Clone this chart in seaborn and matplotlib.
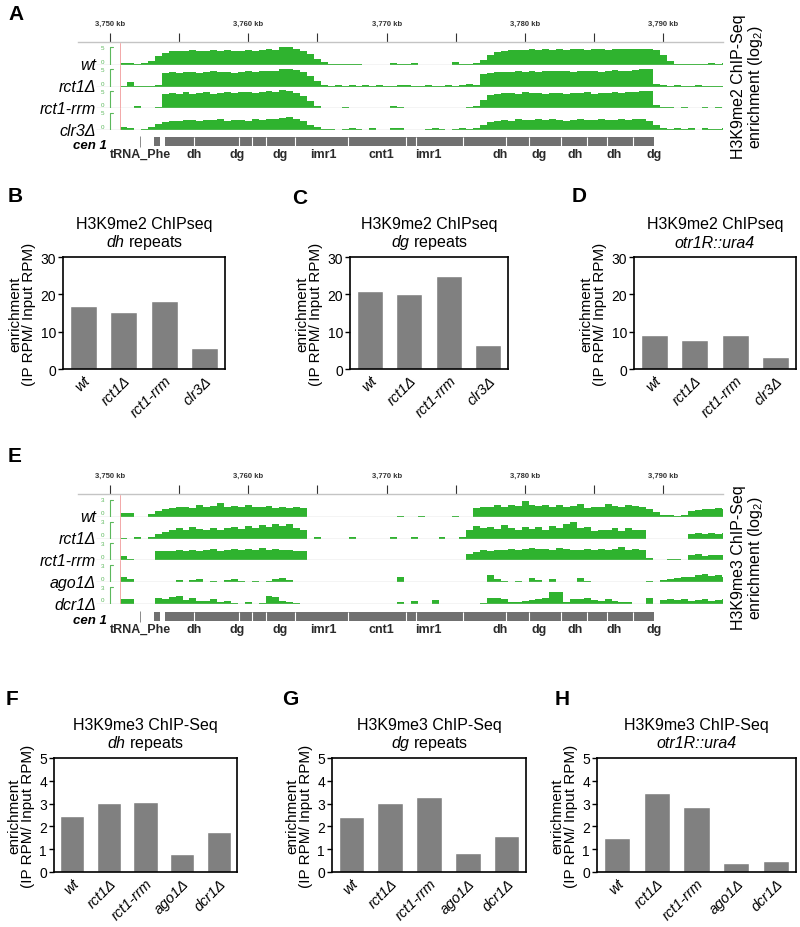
import numpy as np
import matplotlib
matplotlib.use("Agg")
import matplotlib.pyplot as plt
import seaborn as sns

# ---------------- bar chart data ----------------
strains_me2 = ["wt", "rct1Δ", "rct1-rrm", "clr3Δ"]
me2_dh = [17.0, 15.3, 18.2, 5.6]
me2_dg = [21.0, 20.0, 25.0, 6.5]
me2_ura4 = [9.0, 7.9, 9.0, 3.3]

strains_me3 = ["wt", "rct1Δ", "rct1-rrm", "ago1Δ", "dcr1Δ"]
me3_dh = [2.45, 3.02, 3.07, 0.80, 1.75]
me3_dg = [2.40, 3.03, 3.28, 0.82, 1.57]
me3_ura4 = [1.48, 3.46, 2.87, 0.40, 0.47]

# ---------------- genome browser data (0.5 kb bins) ----------------
bin_start_kb = 3750.75
bin_kb = 0.5
view_kb = (3747.7, 3794.3)
ruler_kb = [3750, 3760, 3770, 3780, 3790]
ruler_minor_kb = [3755, 3765, 3775, 3785]
cen_edge_kb = 3750.7
track_line_kb = 3749.0

me2_tracks = {
    "wt": [0.6, 0.4, 0.1, 0.4, 1.2, 2.6, 3.5, 3.9,
           4.1, 4.0, 4.2, 4.0, 4.1, 4.3, 4.0, 4.2,
           3.9, 4.1, 4.3, 4.1, 4.3, 4.5, 4.4, 5.0,
           5.1, 4.7, 4.0, 3.0, 1.8, 0.7, 0.2, 0.15,
           0.2, 0.1, 0.2, 0.0, 0.0, 0.0, 0.0, 0.4,
           0.3, 0.2, 0.6, 0.0, 0.0, 0.0, 0.0, 0.0,
           0.9, 0.2, 0.3, 0.6, 1.5, 2.8, 3.7, 4.1,
           4.3, 4.4, 4.2, 4.5, 4.4, 4.6, 4.4, 4.5,
           4.4, 4.6, 4.5, 4.4, 4.6, 4.5, 4.4, 4.6,
           4.5, 4.6, 4.7, 4.6, 4.7, 4.2, 2.8, 1.0,
           0.2, 0.3, 0.1, 0.3, 0.2, 0.4, 0.2, 0.5],
    "rct1Δ": [0.2, 1.4, 0.2, 0.1, 0.2, 0.6, 4.0, 4.2,
              4.0, 4.1, 4.3, 4.0, 4.2, 4.4, 4.1, 4.3,
              4.0, 4.2, 4.4, 4.2, 4.5, 4.6, 4.4, 5.0,
              5.2, 4.7, 4.2, 3.2, 1.5, 0.6, 0.3, 0.5,
              0.2, 0.4, 0.1, 0.5, 0.2, 0.4, 0.1, 0.3,
              0.6, 0.4, 0.3, 0.1, 0.5, 0.1, 0.2, 0.4,
              0.3, 0.6, 0.8, 0.5, 3.6, 4.0, 4.2, 4.1,
              4.3, 4.4, 4.2, 4.5, 4.3, 4.4, 4.6, 4.4,
              4.5, 4.3, 4.4, 4.6, 4.5, 4.3, 4.5, 4.7,
              4.5, 4.6, 4.8, 5.2, 5.2, 0.8, 0.6, 0.2,
              0.5, 0.1, 0.2, 0.4, 0.1, 0.3, 0.1, 0.2],
    "rct1-rrm": [0.1, 0.1, 0.6, 0.1, 0.0, 0.3, 4.3, 4.5,
                 4.3, 4.6, 4.2, 4.4, 4.6, 4.3, 4.5, 4.7,
                 4.4, 4.6, 4.8, 4.5, 4.8, 5.0, 4.8, 5.2,
                 5.1, 4.5, 3.5, 2.2, 0.8, 0.2, 0.0, 0.0,
                 0.5, 0.0, 0.0, 0.0, 0.0, 0.0, 0.0, 0.6,
                 0.3, 0.2, 0.2, 0.0, 0.2, 0.0, 0.2, 0.1,
                 0.2, 0.1, 0.3, 0.8, 2.5, 3.8, 4.2, 4.4,
                 4.5, 4.3, 4.6, 4.4, 4.5, 4.3, 4.5, 4.4,
                 4.3, 4.5, 4.4, 4.6, 4.3, 4.5, 4.4, 4.6,
                 4.5, 4.7, 4.6, 5.0, 4.9, 0.9, 0.5, 0.3,
                 0.2, 0.3, 0.1, 0.2, 0.3, 0.1, 0.3, 0.1],
    "clr3Δ": [0.8, 0.5, 0.2, 0.3, 1.0, 1.8, 2.4, 2.8,
              2.7, 2.9, 3.0, 2.8, 3.0, 2.9, 3.1, 2.8,
              2.9, 3.0, 2.8, 3.1, 3.0, 3.2, 3.1, 3.6,
              3.8, 3.3, 2.6, 1.6, 0.8, 0.4, 0.3, 0.2,
              0.4, 0.6, 0.3, 0.2, 0.5, 0.1, 0.1, 0.7,
              0.5, 0.2, 0.2, 0.1, 0.4, 0.6, 0.3, 0.2,
              0.4, 0.6, 0.3, 0.7, 1.4, 2.4, 2.8, 2.9,
              2.8, 3.1, 2.9, 3.0, 3.2, 2.9, 3.1, 3.0,
              2.8, 3.0, 3.1, 2.9, 3.0, 3.2, 3.0, 2.9,
              3.1, 3.0, 3.2, 3.3, 2.8, 1.5, 0.5, 0.3,
              0.6, 0.3, 0.5, 0.2, 0.6, 0.3, 0.4, 0.7],
}

me3_tracks = {
    "wt": [0.6, 0.6, 0.0, 0.0, 0.5, 1.0, 1.4, 1.5,
           1.7, 1.8, 1.6, 2.0, 1.7, 1.9, 2.4, 1.8,
           1.9, 1.7, 2.0, 1.8, 1.7, 1.9, 1.6, 1.8,
           1.5, 1.7, 1.6, 0.0, 0.0, 0.0, 0.0, 0.0,
           0.0, 0.0, 0.0, 0.0, 0.0, 0.0, 0.0, 0.0,
           0.15, 0.0, 0.0, 0.1, 0.0, 0.0, 0.0, 0.0,
           0.15, 0.0, 0.0, 1.6, 1.8, 1.7, 2.0, 1.8,
           2.1, 1.9, 2.8, 2.0, 1.9, 2.1, 1.8, 2.0,
           1.7, 1.9, 2.2, 1.6, 1.8, 1.7, 2.3, 1.9,
           1.8, 2.1, 1.9, 1.7, 1.4, 0.9, 0.3, 0.3,
           0.2, 0.4, 1.0, 1.2, 1.3, 1.4, 1.5, 1.4],
    "rct1Δ": [0.1, 0.0, 0.2, 0.0, 0.3, 0.9, 1.2, 1.5,
              1.8, 1.6, 2.1, 1.7, 1.5, 1.9, 1.6, 1.8,
              2.0, 1.7, 2.2, 1.9, 2.4, 2.0, 2.6, 2.2,
              2.5, 1.8, 1.6, 0.0, 0.2, 0.0, 0.0, 0.0,
              0.0, 0.2, 0.0, 0.0, 0.0, 0.0, 0.0, 0.2,
              0.0, 0.0, 0.2, 0.0, 0.0, 0.0, 0.2, 0.0,
              0.0, 0.3, 1.5, 2.2, 1.8, 2.0, 1.7, 2.4,
              1.8, 1.6, 2.1, 1.7, 2.0, 1.6, 2.2, 1.8,
              2.6, 2.9, 1.8, 2.0, 1.3, 1.5, 1.6, 1.8,
              1.4, 1.9, 1.6, 1.5, 0.0, 0.0, 0.0, 0.0,
              0.0, 0.0, 0.9, 1.0, 0.8, 1.0, 0.9, 1.0],
    "rct1-rrm": [0.8, 0.3, 0.1, 0.1, 0.0, 1.6, 1.7, 1.6,
                 1.8, 1.7, 1.9, 1.6, 1.8, 2.0, 1.7, 1.9,
                 2.0, 1.8, 2.1, 1.9, 2.2, 1.9, 2.0, 1.8,
                 1.9, 1.7, 1.6, 0.0, 0.0, 0.0, 0.0, 0.0,
                 0.0, 0.0, 0.0, 0.0, 0.0, 0.0, 0.0, 0.0,
                 0.0, 0.0, 0.0, 0.0, 0.0, 0.0, 0.0, 0.0,
                 0.0, 0.0, 1.2, 1.5, 1.8, 1.7, 1.9, 1.8,
                 2.0, 1.9, 2.1, 2.2, 2.0, 2.1, 1.9, 2.2,
                 2.0, 1.8, 1.9, 2.0, 1.8, 2.1, 1.9, 2.0,
                 2.3, 1.9, 2.1, 1.8, 0.4, 0.1, 0.0, 0.3,
                 0.2, 0.0, 0.9, 1.1, 0.7, 1.0, 0.9, 1.0],
    "ago1Δ": [1.0, 0.5, 0.0, 0.0, 0.0, 0.0, 0.0, 0.0,
              0.4, 0.0, 0.4, 0.5, 0.0, 0.3, 0.0, 0.4,
              0.5, 0.3, 0.0, 0.3, 0.0, 0.3, 0.5, 0.7,
              0.4, 0.0, 0.0, 0.0, 0.0, 0.0, 0.0, 0.0,
              0.0, 0.0, 0.0, 0.0, 0.0, 0.0, 0.0, 0.0,
              1.0, 0.0, 0.0, 0.0, 0.0, 0.0, 0.0, 0.0,
              0.0, 0.0, 0.0, 0.0, 0.0, 1.2, 0.6, 0.3,
              0.0, 0.3, 0.0, 0.8, 0.4, 0.0, 0.6, 0.0,
              0.0, 0.0, 0.7, 0.3, 0.0, 0.0, 0.0, 0.0,
              0.0, 0.0, 0.0, 0.0, 0.3, 0.0, 0.4, 0.6,
              0.8, 1.0, 0.9, 1.2, 1.4, 1.1, 1.3, 1.0],
    "dcr1Δ": [0.8, 0.8, 0.0, 0.0, 0.0, 1.0, 0.9, 1.2,
              1.5, 0.7, 1.1, 0.5, 0.6, 0.9, 0.3, 0.5,
              0.2, 0.0, 0.3, 0.0, 0.2, 1.4, 1.2, 0.6,
              0.3, 0.1, 0.0, 0.0, 0.0, 0.0, 0.0, 0.0,
              0.0, 0.0, 0.0, 0.0, 0.0, 0.0, 0.0, 0.0,
              0.4, 0.0, 0.5, 0.0, 0.0, 0.7, 0.0, 0.0,
              0.0, 0.0, 0.0, 0.0, 0.2, 1.0, 1.1, 0.8,
              0.4, 0.3, 0.5, 0.7, 0.8, 1.0, 2.2, 2.1,
              0.3, 0.9, 0.8, 1.0, 0.7, 0.6, 0.8, 0.5,
              0.4, 0.3, 0.0, 0.0, 1.1, 0.0, 0.7, 0.8,
              0.7, 0.8, 0.6, 0.7, 0.8, 0.6, 0.7, 0.8],
}

# cen 1 annotation
trna_kb = 3752.2
cen_block_kb = [3753.2, 3753.6]
cen_bar_kb = [3754.0, 3789.3]
cen_breaks_kb = [3756.1, 3759.3, 3760.3, 3761.3, 3763.4, 3767.2, 3771.4, 3772.1,
                 3775.5, 3778.6, 3780.3, 3782.6, 3784.5, 3785.9, 3787.8]
feature_names = ["tRNA_Phe", "dh", "dg", "dg", "imr1", "cnt1", "imr1",
                 "dh", "dg", "dh", "dh", "dg"]
feature_kb = [3752.2, 3756.1, 3759.2, 3762.3, 3765.4, 3769.6, 3773.0,
              3778.2, 3781.0, 3783.6, 3786.4, 3789.3]

# ---------------- style ----------------
sns.set_theme(style="white")
plt.rcParams["font.family"] = ["Liberation Sans", "DejaVu Sans"]
plt.rcParams["mathtext.fontset"] = "custom"
plt.rcParams["mathtext.rm"] = "Liberation Sans"
plt.rcParams["mathtext.it"] = "Liberation Sans:italic"
for key in ("text.color", "axes.labelcolor", "xtick.color", "ytick.color"):
    plt.rcParams[key] = "black"

GREEN = "#2fb32f"
W, H = 800, 928
fig = plt.figure(figsize=(W / 100, H / 100), dpi=100)


def box(x0, y0, x1, y1):
    return [x0 / W, 1 - y1 / H, (x1 - x0) / W, (y1 - y0) / H]


def ftext(x, y, s, **kw):
    fig.text(x / W, 1 - y / H, s, **kw)


def ruler(y_line):
    ax = fig.add_axes(box(78, y_line - 14, 723, y_line))
    ax.set_xlim(view_kb)
    ax.set_ylim(0, 1)
    ax.set_facecolor("none")
    for s in ("left", "right", "top"):
        ax.spines[s].set_visible(False)
    ax.spines["bottom"].set_color("#c4c4c4")
    ax.spines["bottom"].set_linewidth(1.0)
    ax.set_yticks([])
    ax.set_xticks(ruler_kb)
    ax.set_xticks(ruler_minor_kb, minor=True)
    ax.set_xticklabels([f"{k:,} kb" for k in ruler_kb], fontsize=5.5,
                       fontweight="bold", color="#333333")
    ax.tick_params(axis="x", which="both", direction="in", length=6.5, width=0.8,
                   color="#333333", bottom=True, top=False, labelbottom=False,
                   labeltop=True, pad=1)


def tracks(tr, y_top, row_h, ymax, scale_top):
    edges = bin_start_kb + bin_kb * np.arange(len(next(iter(tr.values()))) + 1)
    for i, (name, vals) in enumerate(tr.items()):
        y0 = y_top + i * row_h
        ax = fig.add_axes(box(78, y0, 723, y0 + row_h))
        ax.set_facecolor("none")
        ax.stairs(vals, edges, fill=True, color=GREEN, lw=0)
        ax.set_xlim(view_kb)
        ax.set_ylim(0, ymax)
        ax.axis("off")
        ax.hlines(0, track_line_kb, view_kb[1], color="#c8c8c8", lw=1.0)
        ax.axvline(cen_edge_kb, color="#f2a8a8", lw=0.7)
        ax.plot([3750.25, 3750.0, 3750.0], [scale_top, scale_top, 0],
                color="#5cb85c", lw=0.8)
        ax.text(3749.45, scale_top, f"{scale_top}", color="#5cb85c", fontsize=4.5,
                ha="center", va="center")
        ax.text(3749.45, 0.3, "0", color="#5cb85c", fontsize=4.5,
                ha="center", va="bottom")
        ftext(96, y0 + row_h, name, ha="right", va="center", fontsize=11.5,
              style="italic")


def annotation(y0):
    ax = fig.add_axes(box(78, y0, 723, y0 + 24))
    ax.set_facecolor("none")
    ax.set_xlim(view_kb)
    ax.set_ylim(0, 1)
    ax.axis("off")
    ax.fill_between(cen_bar_kb, 0.55, 0.9, color="#707070", lw=0)
    ax.fill_between(cen_block_kb, 0.55, 0.9, color="#707070", lw=0)
    ax.vlines(cen_breaks_kb, 0.55, 0.9, color="white", lw=0.8)
    ax.vlines([trna_kb], 0.5, 0.95, color="#8a8a8a", lw=0.7)
    for name, kb in zip(feature_names, feature_kb):
        ax.text(kb, 0.22, name, ha="center", va="center", fontsize=9,
                fontweight="bold", color="#2a2a2a",
                family=["Liberation Sans Narrow", "Liberation Sans"])
    ftext(107, y0 + 10, "cen 1", ha="right", va="center", fontsize=9.5,
          fontweight="bold", style="italic")


def bar_panel(rect, strains, vals, ymax, step, title1, title2, italic2):
    ax = fig.add_axes(box(*rect))
    sns.barplot(x=strains, y=vals, color="#808080", saturation=1, width=0.66, ax=ax)
    ax.set_xlim(-0.5, len(strains) - 0.5)
    ax.set_ylim(0, ymax)
    ax.set_yticks(list(range(0, ymax + 1, step)))
    for s in ax.spines.values():
        s.set_visible(True)
        s.set_color("black")
        s.set_linewidth(1.2)
    ax.tick_params(axis="y", direction="out", length=3.5, width=1, labelsize=10,
                   pad=1.5, left=True, color="black")
    ax.tick_params(axis="x", length=0, pad=3)
    ax.set_xticks(range(len(strains)))
    ax.set_xticklabels(strains, rotation=45, ha="right", rotation_mode="anchor",
                       style="italic", fontsize=10.5)
    ax.set_xlabel("")
    ax.set_ylabel("enrichment\n(IP RPM/ Input RPM)", fontsize=11, linespacing=0.95,
                  labelpad=3)
    h = rect[3] - rect[1]
    ax.text(0.5, 1.0 + 33 / h, title1, transform=ax.transAxes,
            ha="center", va="center", fontsize=11.5)
    ax.text(0.5, 1.0 + 15 / h, title2, transform=ax.transAxes,
            ha="center", va="center", fontsize=11.5,
            style="italic" if italic2 else "normal")


# ---------------- panel A ----------------
ruler(43)
tracks(me2_tracks, 44, 21.8, 6.3, 5)
annotation(136)
ftext(748, 87, "H3K9me2 ChIP-Seq\nenrichment (log$_2$)", rotation=90,
      ha="center", va="center", fontsize=11.5, linespacing=1.05,
      multialignment="center")

# ---------------- panels B-D ----------------
bar_panel((63, 258, 225, 370), strains_me2, me2_dh, 30, 10,
          "H3K9me2 ChIPseq", "$\\mathit{dh}$ repeats", False)
bar_panel((350, 258, 508, 370), strains_me2, me2_dg, 30, 10,
          "H3K9me2 ChIPseq", "$\\mathit{dg}$ repeats", False)
bar_panel((634, 258, 796, 370), strains_me2, me2_ura4, 30, 10,
          "H3K9me2 ChIPseq", "otr1R::ura4", True)

# ---------------- panel E ----------------
ruler(495)
tracks(me3_tracks, 496, 21.8, 3.85, 3)
annotation(611)
ftext(748, 558, "H3K9me3 ChIP-Seq\nenrichment (log$_2$)", rotation=90,
      ha="center", va="center", fontsize=11.5, linespacing=1.05,
      multialignment="center")

# ---------------- panels F-H ----------------
bar_panel((54, 759, 237, 873), strains_me3, me3_dh, 5, 1,
          "H3K9me3 ChIP-Seq", "$\\mathit{dh}$ repeats", False)
bar_panel((332, 759, 526, 873), strains_me3, me3_dg, 5, 1,
          "H3K9me3 ChIP-Seq", "$\\mathit{dg}$ repeats", False)
bar_panel((597, 759, 796, 873), strains_me3, me3_ura4, 5, 1,
          "H3K9me3 ChIP-Seq", "otr1R::ura4", True)

# ---------------- panel letters ----------------
for letter, x, y in [("A", 8, 14), ("B", 8, 197), ("C", 292, 198), ("D", 572, 197),
                     ("E", 8, 457), ("F", 6, 700), ("G", 282, 700), ("H", 555, 700)]:
    ftext(x, y, letter, fontsize=15, fontweight="bold", ha="left", va="center")

fig.savefig("out.png", dpi=100)
